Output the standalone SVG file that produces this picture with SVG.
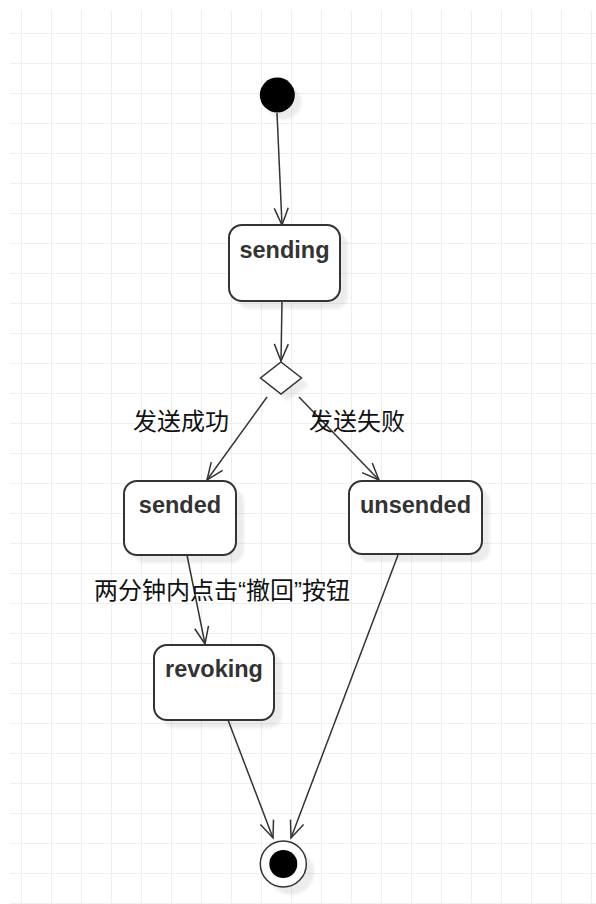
<svg xmlns="http://www.w3.org/2000/svg" width="596" height="904" viewBox="0 0 596 904">
  <defs>
    <pattern id="grid" x="21" y="33" width="30" height="30" patternUnits="userSpaceOnUse">
      <path d="M0,0 V30 M0,0 H30" fill="none" stroke="#efefef" stroke-width="2"/>
    </pattern>
    <filter id="sh" x="-20%" y="-20%" width="140%" height="140%">
      <feGaussianBlur stdDeviation="1.5"/>
    </filter>
    <marker id="arr" viewBox="-20 -10 22 20" refX="0" refY="0" markerWidth="22" markerHeight="20" markerUnits="userSpaceOnUse" orient="auto">
      <path d="M-17,-7 L0,0 L-17,7" fill="none" stroke="#333" stroke-width="1.5"/>
    </marker>
    <style>
      .state { fill: #ffffff; stroke: #333333; stroke-width: 2; }
      .shadow { fill: #000000; opacity: 0.07; filter: url(#sh); }
      .name { font-family: "Liberation Sans", Arial, sans-serif; font-weight: bold; font-size: 23.5px; fill: #333333; text-anchor: middle; }
      .lbl { font-family: "Liberation Sans", "Noto Sans CJK SC", sans-serif; font-size: 24px; fill: #111111; text-anchor: middle; }
      .edge { fill: none; stroke: #333333; stroke-width: 1.5; marker-end: url(#arr); }
    </style>
  </defs>

  <rect x="0" y="0" width="596" height="904" fill="#ffffff"/>
  <rect x="10" y="10" width="586" height="894" fill="url(#grid)"/>

  <g id="connectors">
    <line class="edge" x1="277" y1="113" x2="282" y2="225"/>
    <line class="edge" x1="282" y1="301" x2="281" y2="361"/>
    <line class="edge" x1="267" y1="397" x2="207" y2="480"/>
    <line class="edge" x1="299" y1="397" x2="379" y2="480"/>
    <line class="edge" x1="187" y1="555" x2="205" y2="644"/>
    <line class="edge" x1="228" y1="720" x2="273" y2="838"/>
    <line class="edge" x1="398" y1="555" x2="291" y2="838"/>
  </g>

  <g id="edge-labels">
    <text class="lbl" x="181" y="430">发送成功</text>
    <text class="lbl" x="357" y="430">发送失败</text>
    <text class="lbl" x="222" y="599">两分钟内点击“撤回”按钮</text>
  </g>

  <g id="start">
    <circle class="shadow" cx="284" cy="102" r="17.5"/>
    <circle cx="277.3" cy="95" r="17.5" fill="#000000"/>
  </g>

  <g id="sending">
    <rect class="shadow" x="237" y="233" width="111" height="76" rx="13"/>
    <rect class="state" x="229" y="225" width="111" height="76" rx="13"/>
    <text class="name" x="284.5" y="258">sending</text>
  </g>

  <g id="decision">
    <polygon class="shadow" points="288,369 308.5,385 288,401 267.5,385"/>
    <polygon points="281,362 301.5,378 281,394 260.5,378" fill="#ffffff" stroke="#333333" stroke-width="1.5"/>
  </g>

  <g id="sended">
    <rect class="shadow" x="132" y="489" width="112" height="74" rx="13"/>
    <rect class="state" x="124" y="481" width="112" height="74" rx="13"/>
    <text class="name" x="180" y="513">sended</text>
  </g>

  <g id="unsended">
    <rect class="shadow" x="357" y="489" width="133" height="73" rx="13"/>
    <rect class="state" x="349" y="481" width="133" height="73" rx="13"/>
    <text class="name" x="415.5" y="513">unsended</text>
  </g>

  <g id="revoking">
    <rect class="shadow" x="162" y="653" width="120" height="75" rx="13"/>
    <rect class="state" x="154" y="645" width="120" height="75" rx="13"/>
    <text class="name" x="214" y="677">revoking</text>
  </g>

  <g id="end">
    <circle class="shadow" cx="291" cy="872" r="23"/>
    <circle cx="283.3" cy="864" r="23" fill="#ffffff" stroke="#333333" stroke-width="1.5"/>
    <circle cx="283.3" cy="864" r="14" fill="#000000"/>
  </g>
</svg>
